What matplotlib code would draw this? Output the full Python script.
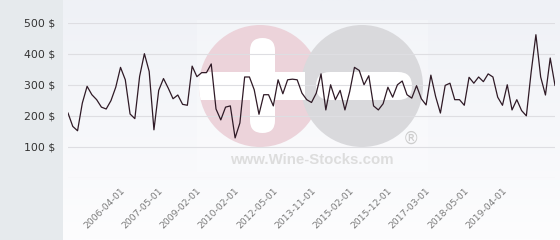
import numpy as np
import matplotlib.pyplot as plt
import matplotlib.transforms as mtransforms
from matplotlib.patches import Circle, Rectangle, FancyBboxPatch

# price series (one value per listing, categorical x)
prices = [209, 166, 152, 241, 295, 268, 252, 228, 222, 249,
          292, 356, 316, 206, 191, 327, 400, 343, 155, 282,
          320, 289, 255, 267, 237, 234, 360, 326, 339, 339,
          367, 222, 187, 228, 232, 129, 177, 325, 325, 284,
          205, 268, 268, 232, 316, 271, 316, 318, 316, 273,
          252, 243, 273, 335, 219, 300, 252, 282, 219, 278,
          356, 346, 300, 329, 232, 219, 239, 292, 260, 300,
          312, 268, 257, 297, 255, 235, 331, 262, 209, 298,
          305, 252, 252, 234, 324, 305, 325, 310, 335, 325,
          260, 234, 300, 219, 252, 217, 200, 340, 461, 325,
          267, 386, 298]

tick_labels = ['2006-04-01', '2007-05-01', '2009-02-01', '2010-02-01',
               '2012-05-01', '2013-11-01', '2015-02-01', '2015-12-01',
               '2017-03-01', '2018-05-01', '2019-04-01']
y_ticks = [100, 200, 300, 400, 500]

W, H = 560, 240
fig = plt.figure(figsize=(W / 100, H / 100), dpi=100)

# background layer in pixel coordinates
bg = fig.add_axes([0, 0, 1, 1], zorder=0)
bg.set_xlim(0, W)
bg.set_ylim(H, 0)
bg.axis('off')
bg.add_patch(Rectangle((0, 0), 63, H, color='#e6eaed', lw=0))
top = np.array([239, 241, 246]) / 255
bot = np.array([253, 253, 254]) / 255
grad = np.linspace(0, 1, 200)[:, None, None] * (bot - top) + top
bg.imshow(grad, extent=(63, W, H, 0), origin='upper', aspect='auto')

# watermark
bg.add_patch(Rectangle((197, 20), 231, 152, color='white', alpha=0.25, lw=0))
pink = Circle((260, 86), 61, color='#ecd3da', lw=0)
gray = Circle((362, 86), 61, color='#d9d9dc', lw=0)
bg.add_patch(pink)
bg.add_patch(gray)
hbar = Rectangle((190, 72), 115, 28, color='white', lw=0)
bg.add_patch(hbar)
hbar.set_clip_path(pink)
bg.add_patch(FancyBboxPatch((250, 38), 25, 95, boxstyle='round,pad=0,rounding_size=12.5',
                            color='white', lw=0))
hbar2 = FancyBboxPatch((316, 72), 96, 28, boxstyle='round,pad=0,rounding_size=14',
                       color='white', lw=0)
bg.add_patch(hbar2)
bg.text(312, 160, 'www.Wine-Stocks.com', ha='center', va='center',
        family='Liberation Sans', weight='bold', fontsize=10.8, color='#dddddd')
bg.text(411, 139, '®', ha='center', va='center', fontsize=12, color='#cdcdcd')

# main chart
ax = fig.add_axes([68 / W, 1 - 178 / H, (555 - 68) / W, (178 - 22.6) / H], zorder=1)
ax.patch.set_alpha(0)
x = np.arange(len(prices))
ax.plot(x, prices, color='#2f1a26', lw=0.9, zorder=3)
ax.set_xlim(0, len(prices) - 1)
ax.set_ylim(0, 500)
for v in [0] + y_ticks:
    ax.axhline(v, color='#dedee2', lw=0.8, zorder=1)
for s in ax.spines.values():
    s.set_visible(False)

ax.set_yticks(y_ticks)
ax.set_yticklabels([f'{v} $' for v in y_ticks], fontsize=7.8, color='#333333')
ax.tick_params(axis='y', length=0, pad=9)

ax.set_xticks(np.arange(12, 12 + 8 * len(tick_labels), 8))
ax.set_xticklabels(tick_labels, rotation=45, ha='right', va='top',
                   rotation_mode='anchor', fontsize=6.7, color='#7a7a7a')
ax.tick_params(axis='x', length=0, pad=6)
shift = mtransforms.ScaledTranslation(-5 / 100, 0, fig.dpi_scale_trans)
for lab in ax.get_xticklabels():
    lab.set_transform(lab.get_transform() + shift)

fig.savefig('out.png', dpi=100)
